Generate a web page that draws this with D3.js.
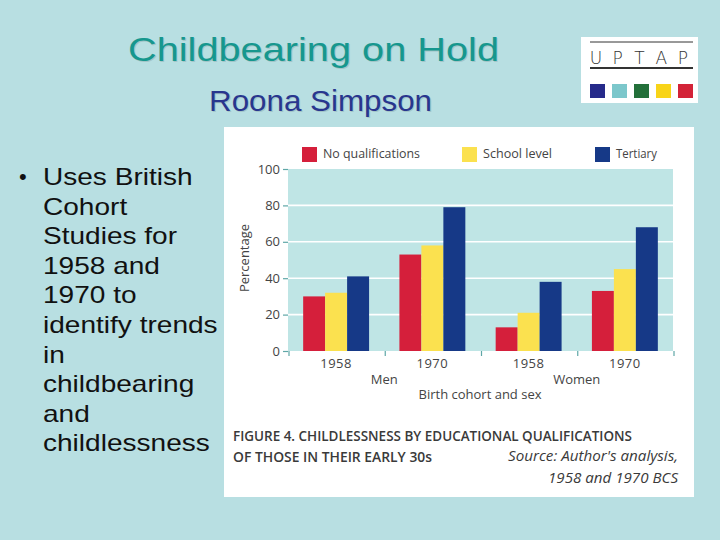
<!DOCTYPE html>
<html><head><meta charset="utf-8">
<script src="https://cdn.jsdelivr.net/npm/d3@7"></script>
<style>html,body{margin:0;padding:0;background:#b8dfe2;}svg{display:block;}</style>
</head><body>
<svg id="c" width="720" height="540"></svg>
<script>
const cohorts = ["1958", "1970", "1958", "1970"];
const groupKeys = ["Men 1958", "Men 1970", "Women 1958", "Women 1970"];
const sexes = ["Men", "Women"];
const seriesNames = ["No qualifications", "School level", "Tertiary"];
const noQualifications = [30, 53, 13, 33];
const schoolLevel = [32, 58, 21, 45];
const tertiary = [41, 79, 38, 68];
const seriesColors = ["#d51f3b", "#fbe14f", "#163987"];
const yTicks = [0, 20, 40, 60, 80, 100];
const bulletLines = ["Uses British", "Cohort", "Studies for", "1958 and", "1970 to", "identify trends", "in", "childbearing", "and", "childlessness"];
const logoLetters = ["U", "P", "T", "A", "P"];
const logoColors = ["#262a8a", "#7cc7cb", "#23703a", "#f8d418", "#d32338"];

const seriesValues = [noQualifications, schoolLevel, tertiary];
const svg = d3.select("#c");

svg.append("rect").attr("width", 720).attr("height", 540).attr("fill", "#b8dfe2");

function shadowText(txt, x, y, size, color, len) {
  svg.append("text").attr("x", x + 1.2).attr("y", y + 1.2).text(txt)
    .attr("font-family", "Liberation Sans, Arial, sans-serif").attr("font-size", size)
    .attr("textLength", len).attr("lengthAdjust", "spacingAndGlyphs")
    .attr("fill", "#8aa6a8").attr("opacity", 0.45);
  svg.append("text").attr("x", x).attr("y", y).text(txt)
    .attr("font-family", "Liberation Sans, Arial, sans-serif").attr("font-size", size)
    .attr("textLength", len).attr("lengthAdjust", "spacingAndGlyphs")
    .attr("fill", color);
}
shadowText("Childbearing on Hold", 128, 61, 33, "#16978e", 371);
shadowText("Roona Simpson", 209, 111, 30, "#28368e", 223);

// Logo
const logo = svg.append("g");
logo.append("rect").attr("x", 581).attr("y", 37).attr("width", 117).attr("height", 66).attr("fill", "#ffffff");
logo.append("line").attr("x1", 590).attr("x2", 693).attr("y1", 42).attr("y2", 42).attr("stroke", "#333").attr("stroke-width", 1);
logo.append("line").attr("x1", 590).attr("x2", 693).attr("y1", 68).attr("y2", 68).attr("stroke", "#333").attr("stroke-width", 1.8);
const logoX = d3.scalePoint().domain(d3.range(logoLetters.length)).range([596, 683]);
logo.selectAll("text.l").data(logoLetters).join("text")
  .attr("x", (d, i) => logoX(i)).attr("y", 64).attr("text-anchor", "middle")
  .attr("font-family", "DejaVu Sans, sans-serif").attr("font-weight", 200).attr("font-size", 17)
  .attr("fill", "#333").text(d => d);
const logoSq = d3.scalePoint().domain(d3.range(logoColors.length)).range([590, 678]);
logo.selectAll("rect.s").data(logoColors).join("rect").attr("class", "s")
  .attr("x", (d, i) => logoSq(i)).attr("y", 84).attr("width", 15).attr("height", 14).attr("fill", d => d);

// Bullet text
const bt = svg.append("g").attr("font-family", "Liberation Sans, Arial, sans-serif").attr("fill", "#111");
bt.append("text").attr("x", 19).attr("y", 184).attr("font-size", 22).text("•");
bt.selectAll("text.b").data(bulletLines).join("text").attr("class", "b")
  .attr("transform", (d, i) => `translate(43,${185 + i * 29.6}) scale(1.22,1)`)
  .attr("font-size", 23).text(d => d);

// White panel
svg.append("rect").attr("x", 224).attr("y", 127).attr("width", 470).attr("height", 370).attr("fill", "#ffffff");

const chartFont = "Open Sans, Lato, sans-serif";
const textCol = "#444";

const x0 = d3.scaleBand().domain(groupKeys).range([288, 673]).paddingInner(0).paddingOuter(0);
const x1 = d3.scaleBand().domain(seriesNames).range([0, x0.bandwidth()]).paddingInner(0).paddingOuter(0.69);
const y = d3.scaleLinear().domain([0, 100]).range([351, 169]);

svg.append("rect").attr("x", 288).attr("y", y(100)).attr("width", 673 - 288).attr("height", y(0) - y(100)).attr("fill", "#bfe5e5");

svg.selectAll("line.grid").data(yTicks.filter(t => t > 0 && t < 100)).join("line").attr("class", "grid")
  .attr("x1", 288).attr("x2", 673).attr("y1", d => y(d)).attr("y2", d => y(d))
  .attr("stroke", "#ffffff").attr("stroke-width", 1.6);

const groups = svg.append("g").selectAll("g").data(groupKeys).join("g")
  .attr("transform", d => `translate(${x0(d)},0)`);
groups.selectAll("rect").data((g, gi) => seriesNames.map((s, si) => ({ s, si, v: seriesValues[si][gi] })))
  .join("rect")
  .attr("x", d => x1(d.s)).attr("width", x1.bandwidth())
  .attr("y", d => y(d.v)).attr("height", d => y(0) - y(d.v))
  .attr("fill", d => seriesColors[d.si]);

const yAxis = svg.append("g").attr("transform", "translate(288,0)")
  .call(d3.axisLeft(y).tickValues(yTicks).tickSize(5).tickPadding(3));
yAxis.select(".domain").remove();
yAxis.selectAll(".tick line").attr("stroke", "#5fa7a7").attr("stroke-width", 1.2);
yAxis.selectAll(".tick text").attr("font-family", chartFont).attr("font-size", 13).attr("fill", textCol);

const bounds = groupKeys.map(g => x0(g)).concat([x0(groupKeys[groupKeys.length - 1]) + x0.bandwidth()]);
svg.selectAll("line.xt").data(bounds).join("line").attr("class", "xt")
  .attr("x1", d => d + 1).attr("x2", d => d + 1).attr("y1", y(0)).attr("y2", y(0) + 5)
  .attr("stroke", "#5fa7a7").attr("stroke-width", 1.2);

svg.selectAll("text.coh").data(groupKeys).join("text").attr("class", "coh")
  .attr("x", d => x0(d) + x0.bandwidth() / 2).attr("y", 368).attr("text-anchor", "middle")
  .attr("font-family", chartFont).attr("font-size", 13).attr("letter-spacing", 0.5).attr("fill", textCol)
  .text((d, i) => cohorts[i]);
svg.selectAll("text.sex").data(sexes).join("text").attr("class", "sex")
  .attr("x", (d, i) => x0(groupKeys[i * 2]) + x0.bandwidth()).attr("y", 384).attr("text-anchor", "middle")
  .attr("font-family", chartFont).attr("font-size", 13).attr("fill", textCol).text(d => d);
svg.append("text").attr("x", 480).attr("y", 399).attr("text-anchor", "middle")
  .attr("font-family", chartFont).attr("font-size", 13).attr("fill", textCol).text("Birth cohort and sex");
svg.append("text").attr("transform", "translate(249,258) rotate(-90)").attr("text-anchor", "middle")
  .attr("font-family", chartFont).attr("font-size", 13).attr("fill", textCol).text("Percentage");

const legX = [302, 462, 595];
const legLen = [97, 69, 41];
const leg = svg.append("g").selectAll("g").data(seriesNames).join("g")
  .attr("transform", (d, i) => `translate(${legX[i]},147)`);
leg.append("rect").attr("width", 15).attr("height", 15).attr("fill", (d, i) => seriesColors[i]);
leg.append("text").attr("x", 21).attr("y", 11).attr("font-family", chartFont).attr("font-size", 13)
  .attr("fill", textCol).attr("textLength", (d, i) => legLen[i]).attr("lengthAdjust", "spacingAndGlyphs").text(d => d);

const cap = svg.append("g").attr("fill", "#3a3a3a");
cap.append("text").attr("x", 233).attr("y", 441).attr("font-family", chartFont)
  .attr("font-weight", 600).attr("font-size", 14.5).attr("textLength", 399).attr("lengthAdjust", "spacingAndGlyphs")
  .text("FIGURE 4. CHILDLESSNESS BY EDUCATIONAL QUALIFICATIONS");
cap.append("text").attr("x", 233).attr("y", 462).attr("font-family", chartFont)
  .attr("font-weight", 600).attr("font-size", 14.5).attr("textLength", 199).attr("lengthAdjust", "spacingAndGlyphs")
  .text("OF THOSE IN THEIR EARLY 30s");
cap.append("text").attr("x", 508).attr("y", 461).attr("font-family", chartFont).attr("font-style", "italic")
  .attr("font-size", 15).attr("textLength", 170).attr("lengthAdjust", "spacingAndGlyphs").text("Source: Author's analysis,");
cap.append("text").attr("x", 548).attr("y", 483).attr("font-family", chartFont).attr("font-style", "italic")
  .attr("font-size", 15).attr("textLength", 130).attr("lengthAdjust", "spacingAndGlyphs").text("1958 and 1970 BCS");
</script>
</body></html>
